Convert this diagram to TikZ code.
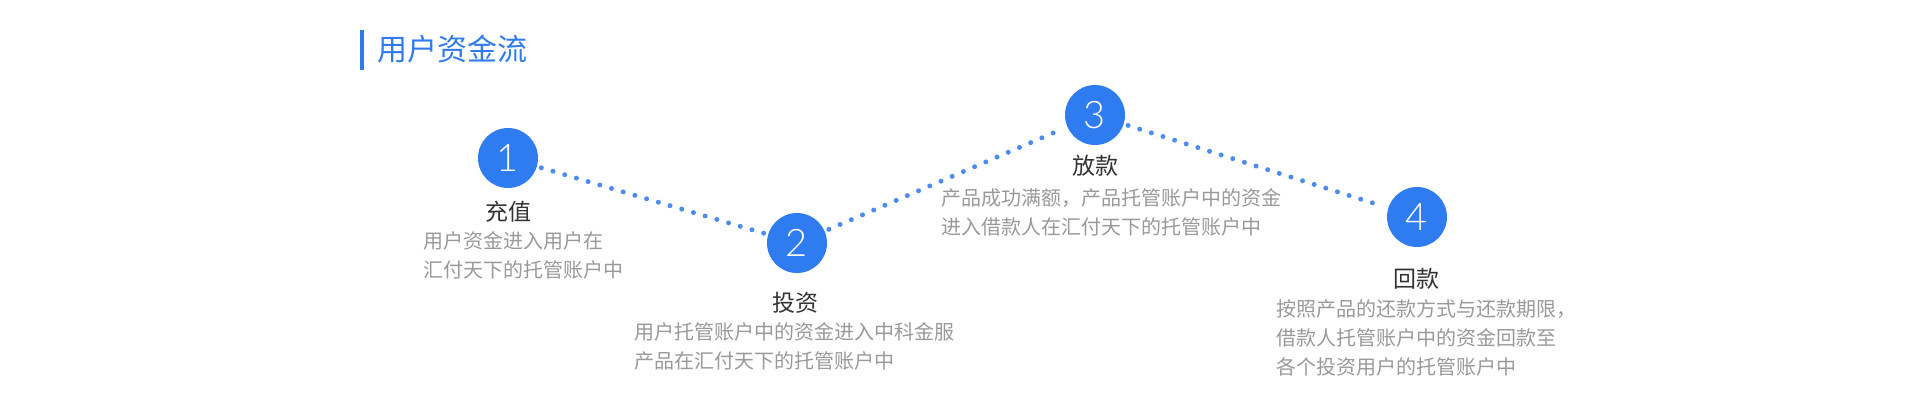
\documentclass[tikz,border=0pt]{standalone}
\usepackage{fontspec}
\setmainfont{Noto Sans CJK SC}
\newfontfamily\digitfont{Lato}[UprightFont=* Light]
\definecolor{stepblue}{HTML}{2F7CF0}
\definecolor{dotblue}{HTML}{4D8CEC}
\definecolor{titleblue}{HTML}{2F7BEB}
\definecolor{labelgray}{HTML}{333333}
\definecolor{descgray}{HTML}{999999}
\begin{document}
\begin{tikzpicture}[x=1pt,y=-1pt,
  stepcircle/.style={circle,fill=stepblue,minimum size=60pt,inner sep=0pt,text=white,font=\digitfont\fontsize{38}{38}\selectfont},
  steplabel/.style={anchor=base,inner sep=0pt,text=labelgray,font=\fontsize{23}{23}\selectfont},
  stepdesc/.style={anchor=base west,inner sep=0pt,align=left,text=descgray,font=\fontsize{20}{29}\selectfont},
  dotline/.style={dotblue,line width=5pt,line cap=round,dash pattern=on 0pt off 12.2pt,shorten <=4.5pt,shorten >=4.5pt}]
\useasboundingbox (0,0) rectangle (1920,408);
\fill[titleblue] (360,30) rectangle (364,70);
\node[anchor=base west,inner sep=0pt,text=titleblue,font=\fontsize{30}{30}\selectfont] (title) at (377,60.5) {用户资金流};
\node[stepcircle] (c1) at (508,158) {1};
\node[stepcircle] (c2) at (797,243) {2};
\node[stepcircle] (c3) at (1095,115) {3};
\node[stepcircle] (c4) at (1417,217) {4};
\draw[dotline] (c1) -- (c2);
\draw[dotline] (c2) -- (c3);
\draw[dotline] (c3) -- (c4);
\node[steplabel] (l1) at (508,220) {充值};
\node[steplabel] (l2) at (795,311) {投资};
\node[steplabel] (l3) at (1095,174.5) {放款};
\node[steplabel] (l4) at (1416,287) {回款};
\node[stepdesc] (d1) at (423,277.5) {用户资金进入用户在\\汇付天下的托管账户中};
\node[stepdesc] (d2) at (634,368.5) {用户托管账户中的资金进入中科金服\\产品在汇付天下的托管账户中};
\node[stepdesc] (d3) at (941,234.5) {产品成功满额，产品托管账户中的资金\\进入借款人在汇付天下的托管账户中};
\node[stepdesc] (d4) at (1276,374.5) {按照产品的还款方式与还款期限，\\借款人托管账户中的资金回款至\\各个投资用户的托管账户中};
\end{tikzpicture}
\end{document}
